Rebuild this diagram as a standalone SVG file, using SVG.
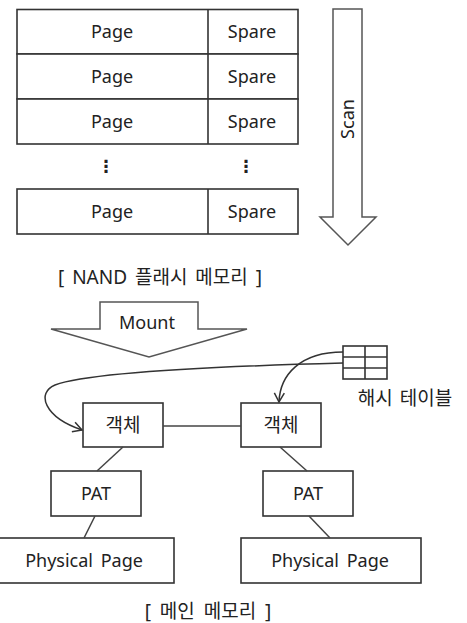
<svg xmlns="http://www.w3.org/2000/svg" width="467" height="623" viewBox="0 0 467 623">
  <style>
    .box { fill: #ffffff; stroke: #333333; stroke-width: 1.6; }
    .big { fill: #ffffff; stroke: #555555; stroke-width: 1.5; }
    .lbl { font-family: "Noto Sans", "Noto Sans CJK KR", sans-serif; font-size: 18px; fill: #222222; text-anchor: middle; }
    .ko { font-size: 19px; }
    .dots { font-family: "DejaVu Sans", sans-serif; font-weight: bold; font-size: 17px; }
    .link { fill: none; stroke: #444444; stroke-width: 1.5; }
    .curve { fill: none; stroke: #333333; stroke-width: 1.5; }
  </style>
  <defs>
    <marker id="chevron" markerWidth="14" markerHeight="14" refX="10" refY="6" orient="auto" markerUnits="userSpaceOnUse">
      <path d="M1,1 L10,6 L1,11" fill="none" stroke="#333333" stroke-width="1.5"/>
    </marker>
  </defs>

  <!-- NAND flash page table -->
  <g id="nand-table">
    <rect class="box" x="17" y="9.5" width="281" height="44.5"/>
    <rect class="box" x="17" y="54" width="281" height="45"/>
    <rect class="box" x="17" y="99" width="281" height="45"/>
    <rect class="box" x="17" y="189" width="281" height="45"/>
    <line class="box" x1="208" y1="9.5" x2="208" y2="144"/>
    <line class="box" x1="208" y1="189" x2="208" y2="234"/>
    <text class="lbl" x="112" y="38">Page</text>
    <text class="lbl" x="252" y="38">Spare</text>
    <text class="lbl" x="112" y="83">Page</text>
    <text class="lbl" x="252" y="83">Spare</text>
    <text class="lbl" x="112" y="128">Page</text>
    <text class="lbl" x="252" y="128">Spare</text>
    <text class="lbl dots" x="106" y="172">⋮</text>
    <text class="lbl dots" x="246" y="172">⋮</text>
    <text class="lbl" x="112" y="218">Page</text>
    <text class="lbl" x="252" y="218">Spare</text>
  </g>

  <!-- Scan arrow -->
  <g id="scan">
    <polygon class="big" points="333,9 362,9 362,217 376,217 348,245 320,217 333,217"/>
    <text class="lbl" transform="translate(354,119) rotate(-90)">Scan</text>
  </g>

  <g id="nand-caption">
    <text class="lbl ko" x="160" y="284" style="word-spacing: 3px;">[ NAND 플래시  메모리 ]</text>
  </g>

  <!-- Mount arrow -->
  <g id="mount">
    <polygon class="big" points="100,302 198,302 198,329 247,329 149,357 51,329 100,329"/>
    <text class="lbl" x="147" y="329">Mount</text>
  </g>

  <!-- Hash table -->
  <g id="hash-table">
    <rect class="box" x="343" y="346" width="44" height="33"/>
    <line class="box" x1="365" y1="346" x2="365" y2="379"/>
    <line class="box" x1="343" y1="357" x2="387" y2="357"/>
    <line class="box" x1="343" y1="368" x2="387" y2="368"/>
    <text class="lbl ko" x="405" y="405" style="word-spacing: 2px;">해시 테이블</text>
  </g>

  <!-- Objects -->
  <g id="object-left">
    <rect class="box" x="83" y="403" width="80" height="44"/>
    <text class="lbl ko" x="123" y="432">객체</text>
  </g>
  <g id="object-right">
    <rect class="box" x="241" y="403" width="80" height="44"/>
    <text class="lbl ko" x="281" y="432">객체</text>
  </g>

  <!-- Page allocation tables -->
  <g id="pat-left">
    <rect class="box" x="51" y="471" width="90" height="45"/>
    <text class="lbl" x="96" y="500">PAT</text>
  </g>
  <g id="pat-right">
    <rect class="box" x="263" y="471" width="90" height="45"/>
    <text class="lbl" x="308" y="500">PAT</text>
  </g>

  <!-- Physical pages -->
  <g id="page-left">
    <rect class="box" x="-1" y="538" width="175" height="45"/>
    <text class="lbl" x="84" y="567" style="word-spacing: 3px;">Physical Page</text>
  </g>
  <g id="page-right">
    <rect class="box" x="241" y="538" width="180" height="45"/>
    <text class="lbl" x="330" y="567" style="word-spacing: 3px;">Physical Page</text>
  </g>

  <g id="main-caption">
    <text class="lbl ko" x="208" y="618" style="word-spacing: 4px;">[ 메인 메모리 ]</text>
  </g>

  <!-- Connectors -->
  <g id="connectors">
    <line class="link" x1="163" y1="426" x2="241" y2="426"/>
    <line class="link" x1="123" y1="447" x2="97" y2="471"/>
    <line class="link" x1="95" y1="516" x2="84" y2="538"/>
    <line class="link" x1="280" y1="447" x2="307" y2="471"/>
    <line class="link" x1="309" y1="516" x2="330" y2="538"/>
    <path class="curve" d="M343,363 C230,366 90,372 55,385 C36,393 44,417 82,430" marker-end="url(#chevron)"/>
    <path class="curve" d="M343,352 C300,352 280,375 279,402" marker-end="url(#chevron)"/>
  </g>
</svg>
